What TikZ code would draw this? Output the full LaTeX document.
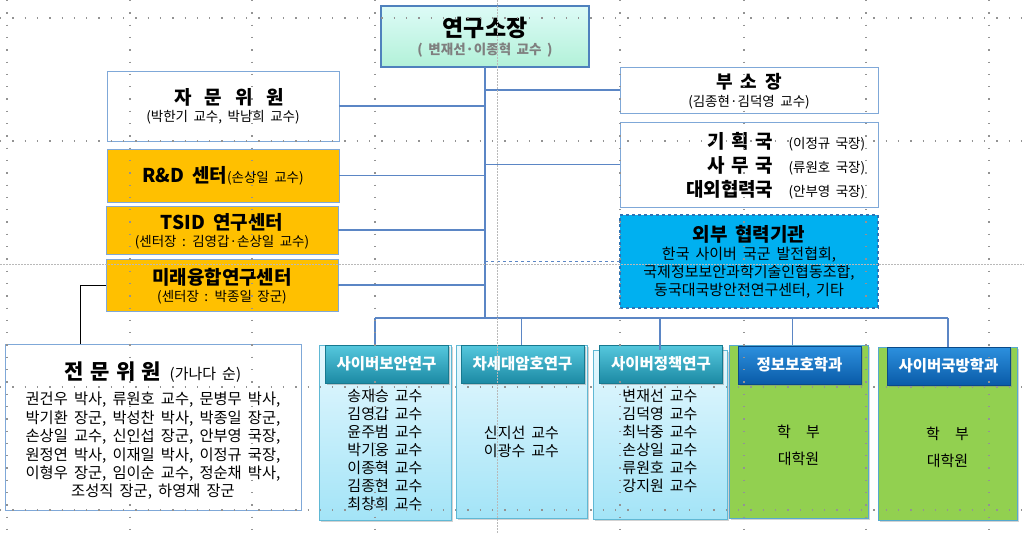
\documentclass[tikz,border=0pt]{standalone}
\usepackage{fontspec}
\setmainfont{Noto Sans CJK KR}[WordSpace=1.8]
\usetikzlibrary{positioning,shadows}

\definecolor{linkblue}{HTML}{5B86C5}
\definecolor{boxedge}{HTML}{7FA8D8}
\definecolor{orangefill}{HTML}{FFC000}
\definecolor{extfill}{HTML}{00B0F0}
\definecolor{extedge}{HTML}{2E74B5}
\definecolor{headtop}{HTML}{DDFBF7}
\definecolor{headbot}{HTML}{B2F1D8}
\definecolor{headedge}{HTML}{4F81BD}
\definecolor{subgray}{HTML}{7F7F7F}
\definecolor{coltop}{HTML}{E6F8FE}
\definecolor{colbot}{HTML}{A3E4F7}
\definecolor{coledge}{HTML}{60B8D4}
\definecolor{tealtop}{HTML}{56C8DE}
\definecolor{tealbot}{HTML}{1C8AA4}
\definecolor{tealedge}{HTML}{17798F}
\definecolor{bluetop}{HTML}{2C90DE}
\definecolor{bluebot}{HTML}{0A5BA8}
\definecolor{blueedge}{HTML}{0A4A88}
\definecolor{greenfill}{HTML}{92D050}
\definecolor{greenedge}{HTML}{56A9CE}

\tikzset{
  box/.style={draw=boxedge, line width=1pt, inner sep=0pt, outer sep=0pt},
  wbox/.style={box, fill=white},
  obox/.style={box, fill=orangefill},
  headbox/.style={box, draw=headedge, line width=1.3pt, top color=headtop, bottom color=headbot},
  extbox/.style={box, draw=extedge, line width=1.2pt, dashed, fill=extfill},
  link/.style={draw=linkblue, line width=1.1pt},
  title/.style={font=\bfseries\fontsize{19}{22}\selectfont},
  sub/.style={font=\fontsize{13.5}{16}\selectfont},
  body/.style={font=\fontsize{15}{18}\selectfont, align=center},
  colbox/.style={box, draw=coledge, top color=coltop, bottom color=colbot,
    drop shadow={opacity=0.35, shadow xshift=2pt, shadow yshift=-2pt}},
  deptbox/.style={box, draw=greenedge, fill=greenfill,
    drop shadow={opacity=0.35, shadow xshift=2pt, shadow yshift=-2pt}},
  tealtab/.style={box, draw=tealedge, top color=tealtop, bottom color=tealbot,
    minimum width=123pt, minimum height=38pt, text=white,
    font=\bfseries\fontsize{15.5}{18}\selectfont,
    drop shadow={opacity=0.4, shadow xshift=1.5pt, shadow yshift=-1.5pt}},
  bluetab/.style={tealtab, draw=blueedge, top color=bluetop, bottom color=bluebot},
  gridline/.style={gray!85, line width=1.3pt, dash pattern=on 1.3pt off 11pt},
  guideline/.style={gray!55, line width=0.9pt, dash pattern=on 1.5pt off 1.5pt},
}

\begin{document}
\begin{tikzpicture}[x=1pt,y=-1pt]
\fill[white] (0,0) rectangle (1024,533);
\useasboundingbox (0,0) rectangle (1024,533);

% director
\node[headbox, minimum width=208pt, minimum height=61pt] (head) at (485,36.5) {};
\node[font=\bfseries\fontsize{23}{26}\selectfont] (headname) at (485,28) {연구소장};
\node[font=\bfseries\fontsize{13.5}{16}\selectfont, text=subgray] (headsub) at (485,50) {( 변재선·이종혁 교수 )};

% left side
\node[wbox, minimum width=232pt, minimum height=70pt] (advisory) at (223,106) {};
\node[title] (advisoryname) at (229,97) {자\hspace{.7em}문\hspace{.7em}위\hspace{.7em}원};
\node[sub] (advisorysub) at (223,117) {(박한기 교수, 박남희 교수)};

\node[obox, minimum width=232pt, minimum height=53pt] (rnd) at (223,175.5) {};
\node[title] (rndname) at (223,176) {R\&D 센터{\mdseries\fontsize{13.5}{16}\selectfont(손상일 교수)}};

\node[obox, minimum width=232pt, minimum height=48pt] (tsid) at (222,230) {};
\node[title] (tsidname) at (222,222) {TSID 연구센터};
\node[sub] (tsidsub) at (222,242) {(센터장 : 김영갑·손상일 교수)};

\node[obox, minimum width=232pt, minimum height=52pt] (future) at (222,285) {};
\node[title] (futurename) at (222,277) {미래융합연구센터};
\node[sub] (futuresub) at (222,297) {(센터장 : 박종일 장군)};

\node[wbox, minimum width=296pt, minimum height=166pt] (expert) at (153,427) {};
\node[font=\bfseries\fontsize{21}{24}\selectfont] (expertname) at (153,372)
  {전\hspace{.3em}문\hspace{.3em}위\hspace{.3em}원 {\mdseries\fontsize{15}{18}\selectfont(가나다 순)}};
\node[body, font=\fontsize{15.3}{18.4}\selectfont] (expertlist) at (153,446)
  {권건우 박사, 류원호 교수, 문병무 박사,\\
   박기환 장군, 박성찬 박사, 박종일 장군,\\
   손상일 교수, 신인섭 장군, 안부영 국장,\\
   원정연 박사, 이재일 박사, 이정규 국장,\\
   이형우 장군, 임이순 교수, 정순채 박사,\\
   조성직 장군, 하영재 장군};

% right side
\node[wbox, minimum width=258pt, minimum height=46pt] (deputy) at (749,90) {};
\node[font=\bfseries\fontsize{18}{21}\selectfont] (deputyname) at (749,82) {부\hspace{.45em}소\hspace{.45em}장};
\node[sub] (deputysub) at (749,102) {(김종현·김덕영 교수)};

\node[wbox, minimum width=258pt, minimum height=85pt] (office) at (749,164.5) {};
\node[title, anchor=base east] (plan) at (777,148) {기\hspace{.35em}획\hspace{.35em}국};
\node[sub, anchor=base west] (planhead) at (785,148) {(이정규 국장)};
\node[title, anchor=base east] (admin) at (777,172) {사\hspace{.35em}무\hspace{.35em}국};
\node[sub, anchor=base west] (adminhead) at (785,172) {(류원호 국장)};
\node[title, anchor=base east] (coop) at (777,196) {대외협력국};
\node[sub, anchor=base west] (coophead) at (785,196) {(안부영 국장)};

\node[extbox, minimum width=258pt, minimum height=93pt] (ext) at (749,261.5) {};
\node[title] (extname) at (749,234) {외부 협력기관};
\node[body] (extlist) at (749,273)
  {한국 사이버 국군 발전협회,\\
   국제정보보안과학기술인협동조합,\\
   동국대국방안전연구센터, 기타};

% research groups and departments
\node[colbox, minimum width=132pt, minimum height=175pt] (sec) at (385,432.5) {};
\node[tealtab] (sectab) at (386.5,364) {사이버보안연구};
\node[body] (seclist) at (385,450)
  {송재승 교수\\ 김영갑 교수\\ 윤주범 교수\\ 박기웅 교수\\ 이종혁 교수\\ 김종현 교수\\ 최창희 교수};

\node[colbox, minimum width=131pt, minimum height=173pt] (crypto) at (521.5,431.5) {};
\node[tealtab] (cryptotab) at (522.5,364) {차세대암호연구};
\node[body] (cryptolist) at (521.5,442) {신지선 교수\\ 이광수 교수};

\node[colbox, minimum width=134pt, minimum height=169pt] (policy) at (660,434.5) {};
\node[tealtab] (policytab) at (661,364) {사이버정책연구};
\node[body] (policylist) at (660,441)
  {변재선 교수\\ 김덕영 교수\\ 최낙중 교수\\ 손상일 교수\\ 류원호 교수\\ 강지원 교수};

\node[deptbox, minimum width=139pt, minimum height=173pt] (infosec) at (798.5,431.5) {};
\node[bluetab] (infosectab) at (799.5,365) {정보보호학과};
\node[body, font=\fontsize{15}{27}\selectfont] (infoseclist) at (798.5,445.5) {학\hspace{1em}부\\ 대학원};

\node[deptbox, minimum width=139pt, minimum height=173pt] (defense) at (947.5,433.5) {};
\node[bluetab] (defensetab) at (948.5,366) {사이버국방학과};
\node[body, font=\fontsize{15}{27}\selectfont] (defenselist) at (947.5,447.5) {학\hspace{1em}부\\ 대학원};

% connectors
\coordinate (bus) at (485,318);
\coordinate (barL) at (375,318);
\coordinate (barR) at (948,318);
\coordinate (elbow) at (80,285);
\draw[link] (head.south -| bus) -- (bus);
\draw[link] (advisory.east) -- (advisory.east -| bus);
\draw[link] (rnd.east) -- (rnd.east -| bus);
\draw[link] (tsid.east) -- (tsid.east -| bus);
\draw[link] (future.east) -- (future.east -| bus);
\draw[link] (deputy.west -| bus) -- (deputy.west);
\draw[link] (office.west -| bus) -- (office.west);
\draw[link, dashed] (ext.west -| bus) -- (ext.west);
\draw[black, line width=1pt] (future.west) -- (elbow) -- (elbow |- expert.north);
\draw[link] (barL) -- (barR);
\draw[link] (barL) -- (barL |- sec.north);
\draw[link] (crypto.north |- bus) -- (crypto.north);
\draw[link] (policy.north |- bus) -- (policy.north);
\draw[link] ([xshift=-6pt]infosec.north |- bus) -- ([xshift=-6pt]infosec.north);
\draw[link] (barR) -- (barR |- defense.north);

% guide grid
\foreach \gy in {18,141,387,510}
  \draw[gridline] (0,\gy) -- (1024,\gy);
\foreach \gx in {7,130,252,375,620,744,866,989}
  \draw[gridline] (\gx,0) -- (\gx,533);
\draw[guideline] (0,264) -- (1024,264);
\draw[guideline] (497,0) -- (497,533);
\end{tikzpicture}
\end{document}
